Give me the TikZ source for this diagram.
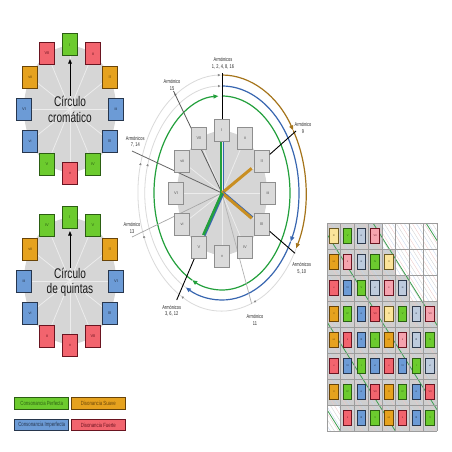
\documentclass[tikz,border=0pt]{standalone}
\usepackage{fontspec}
\setmainfont{Liberation Sans}
\usepackage{graphicx}
\usetikzlibrary{arrows.meta,calc}
\definecolor{gF}{HTML}{6CCB2E}\definecolor{gD}{HTML}{2B5E12}
\definecolor{rF}{HTML}{F2646E}\definecolor{rD}{HTML}{6A1420}
\definecolor{oF}{HTML}{E6A21E}\definecolor{oD}{HTML}{694408}
\definecolor{bF}{HTML}{6C9BD6}\definecolor{bD}{HTML}{27364D}
\definecolor{yF}{HTML}{FBE49A}\definecolor{yD}{HTML}{6B5A22}
\definecolor{pF}{HTML}{F5A3AE}\definecolor{pD}{HTML}{6A1420}
\definecolor{lF}{HTML}{BDCBDD}\definecolor{lD}{HTML}{2E3A4C}
\definecolor{boxF}{HTML}{DADADA}\definecolor{boxD}{HTML}{8E8E8E}
\definecolor{ringF}{HTML}{D6D6D6}\definecolor{spokeC}{HTML}{ECECEC}
\definecolor{gL}{HTML}{23A03C}\definecolor{bL}{HTML}{3866B0}
\definecolor{oL}{HTML}{C98F22}\definecolor{brL}{HTML}{A5741A}
\definecolor{faintC}{HTML}{DADADA}\definecolor{tipC}{HTML}{8A8A8A}
\definecolor{hA}{HTML}{EEC8C8}\definecolor{hB}{HTML}{C6D6EE}\definecolor{hC}{HTML}{D0D0D0}
\definecolor{gridC}{HTML}{9C9C9C}\definecolor{cellC}{HTML}{CFCFCF}\definecolor{grnL}{HTML}{3E9E50}
\newcommand\sq[1]{\scalebox{0.72}[1]{#1}}
\def\gridrows{%
1/{1/yF/yD/III,2/gF/gD/V,3/lF/lD/vi,4/pF/pD/VII},%
2/{1/oF/oD/vii,2/pF/pD/ii,3/lF/lD/iii,4/gF/gD/IV,5/yF/yD/II},%
3/{1/rF/rD/v,2/bF/bD/VI,3/gF/gD/V,4/lF/lD/vi,5/pF/pD/ii,6/lF/lD/iii},%
4/{1/oF/oD/II,2/gF/gD/IV,3/bF/bD/vi,4/rF/rD/VII,5/yF/yD/II,6/gF/gD/V,7/lF/lD/iii,8/pF/pD/VII},%
5/{1/oF/oD/vii,2/rF/rD/ii,3/bF/bD/III,4/gF/gD/V,5/oF/oD/vii,6/pF/pD/ii,7/lF/lD/III,8/gF/gD/IV},%
6/{1/rF/rD/v,2/bF/bD/VI,3/gF/gD/I,4/bF/bD/vi,5/rF/rD/v,6/bF/bD/VI,7/gF/gD/I,8/lF/lD/vi},%
7/{1/oF/oD/II,2/gF/gD/IV,3/bF/bD/vi,4/rF/rD/VII,5/oF/oD/II,6/gF/gD/IV,7/bF/bD/vi,8/rF/rD/VII},%
8/{2/rF/rD/ii,3/bF/bD/III,4/gF/gD/V,5/oF/oD/vii,6/rF/rD/ii,7/bF/bD/III,8/gF/gD/V}}
\begin{document}
\begin{tikzpicture}[x=1pt,y=-1pt,
  hb/.style 2 args={draw=#2,fill=#1,line width=1pt,minimum width=15pt,minimum height=22pt,inner sep=0pt,font=\fontsize{4}{4}\selectfont,text=#2},
  cbx/.style={draw=boxD,fill=boxF,line width=0.9pt,minimum width=15pt,minimum height=22pt,inner sep=0pt,font=\fontsize{4}{4}\selectfont,text=black!65},
  gb/.style 2 args={draw=#2,fill=#1,line width=0.8pt,minimum width=8.5pt,minimum height=14.5pt,inner sep=0pt,font=\fontsize{2.5}{2.5}\selectfont,text=#2},
  lgbox/.style 2 args={draw=#2,fill=#1,line width=1pt,minimum width=54.5pt,minimum height=11.5pt,inner sep=0pt,font=\fontsize{6}{6}\selectfont,text=#2},
  spoke/.style={draw=spokeC,line width=0.8pt},
  hlab/.style={font=\fontsize{5.5}{6.6}\selectfont,align=center,inner sep=0pt,text=black!85},
  title/.style={font=\fontsize{14}{15.5}\selectfont,align=center,inner sep=0pt,text=black!90},
  atip/.style={-{Triangle[length=5pt,width=4pt]}},
  satip/.style={-{Triangle[length=2.6pt,width=2.2pt]}},
  faint/.style={draw=faintC,line width=0.8pt},
  blk/.style={draw=black,line width=0.9pt},
]
\useasboundingbox (0,0) rectangle (452,452);
\fill[white] (0,0) rectangle (452,452);

% ---------- Circulo cromatico ----------
\coordinate (CA) at (70,109);
\fill[ringF] (CA) ellipse[x radius=46,y radius=63];
\foreach \k in {0,...,11} \coordinate (pa\k) at ($(CA)+({46*sin(30*\k)},{-64*cos(30*\k)})$);
\foreach \k in {0,...,11} \draw[spoke] (CA) -- (pa\k);
\foreach \k/\l/\fc/\dc in {0/I/gF/gD,1/ii/rF/rD,2/II/oF/oD,3/iii/bF/bD,4/III/bF/bD,5/IV/gF/gD,6/v/rF/rD,7/V/gF/gD,8/vi/bF/bD,9/VI/bF/bD,10/vii/oF/oD,11/VII/rF/rD}
  \node[hb={\fc}{\dc}] (ca\k) at (pa\k) {\l};
\coordinate (aa) at (70,96);
\draw[black,line width=0.8pt,-{Triangle[length=4.5pt,width=3.5pt]},shorten >=2.5pt] (aa) -- (ca0);
\node[title] (ta) at (70,109.5) {\sq{Círculo}\\\sq{cromático}};

% ---------- Circulo de quintas ----------
\coordinate (CB) at (70,281);
\fill[ringF] (CB) ellipse[x radius=46,y radius=63];
\foreach \k in {0,...,11} \coordinate (pb\k) at ($(CB)+({46*sin(30*\k)},{-64*cos(30*\k)})$);
\foreach \k in {0,...,11} \draw[spoke] (CB) -- (pb\k);
\foreach \k/\l/\fc/\dc in {0/I/gF/gD,1/V/gF/gD,2/II/oF/oD,3/VI/bF/bD,4/III/bF/bD,5/VII/rF/rD,6/v/rF/rD,7/ii/rF/rD,8/vi/bF/bD,9/iii/bF/bD,10/vii/oF/oD,11/IV/gF/gD}
  \node[hb={\fc}{\dc}] (cq\k) at (pb\k) {\l};
\coordinate (ab) at (70,268);
\draw[black,line width=0.8pt,-{Triangle[length=4.5pt,width=3.5pt]},shorten >=2.5pt] (ab) -- (cq0);
\node[title] (tb) at (70,282.5) {\sq{Círculo}\\\sq{de quintas}};

% ---------- Central diagram ----------
\coordinate (C) at (222,193);
% faint gray arcs with small tips
\foreach \a/\b in {118/196,196/269}
  \draw[faint,satip,-{Triangle[length=2.6pt,width=2.2pt,color=tipC]}] ($(C)+(\a:77 and 107)$) arc[start angle=\a,end angle=\b,x radius=77,y radius=107];
\foreach \a/\b in {28/68,68/119,119/159,159/195,195/237.5,237.5/269}
  \draw[faint,-{Triangle[length=2.6pt,width=2.2pt,color=tipC]}] ($(C)+(\a:84 and 118)$) arc[start angle=\a,end angle=\b,x radius=84,y radius=118];
% green
\draw[draw=gL,line width=1.2pt,-{Triangle[length=5pt,width=4pt,color=gL]}] ($(C)+(-90:68 and 97)$) arc[start angle=-90,end angle=116,x radius=68,y radius=97];
\draw[draw=gL,line width=1.2pt,-{Triangle[length=5pt,width=4pt,color=gL]}] ($(C)+(116:68 and 97)$) arc[start angle=116,end angle=267,x radius=68,y radius=97];
% blue
\draw[draw=bL,line width=1.2pt,-{Triangle[length=5pt,width=4pt,color=bL]}] ($(C)+(-90:77 and 107)$) arc[start angle=-90,end angle=27,x radius=77,y radius=107];
\draw[draw=bL,line width=1.2pt,-{Triangle[length=5pt,width=4pt,color=bL]}] ($(C)+(27:77 and 107)$) arc[start angle=27,end angle=118,x radius=77,y radius=107];
% brown
\draw[draw=brL,line width=1.2pt,-{Triangle[length=5pt,width=4pt,color=brL]}] ($(C)+(-90:84 and 118)$) arc[start angle=-90,end angle=-32,x radius=84,y radius=118];
\draw[draw=brL,line width=1.2pt,-{Triangle[length=5pt,width=4pt,color=brL]}] ($(C)+(-32:84 and 118)$) arc[start angle=-32,end angle=28,x radius=84,y radius=118];

% gray ring
\fill[ringF] (C) ellipse[x radius=45,y radius=62];
\foreach \k in {0,...,11} \coordinate (pc\k) at ($(C)+({46*sin(30*\k)},{-63*cos(30*\k)})$);
\foreach \k in {0,...,11} \draw[spoke] (C) -- (pc\k);

% harmonic end points
\coordinate (h1) at (222,73);
\coordinate (h15) at (173.5,91);
\coordinate (h7) at (132,151);
\coordinate (h13) at (132,237);
\coordinate (h3) at (176.7,300);
\coordinate (h11) at (251.7,304);
\coordinate (h5) at (295,253.3);
\coordinate (h9) at (296,131);
\draw[draw=black!65,line width=0.8pt] (C) -- (h15);
\draw[draw=black!60,line width=0.8pt] (C) -- (h7);
\draw[draw=black!35,line width=0.7pt] (C) -- (h13);
\draw[draw=black!30,line width=0.7pt] (C) -- (h11);

% thick colored lines
\coordinate (tI1) at (223.4,193);\coordinate (tI2) at (223.4,141);
\coordinate (tI3) at (221,193);\coordinate (tI4) at (221,141);
\draw[draw=bL,line width=1.5pt] (tI1) -- (tI2);
\draw[draw=gL,line width=2.6pt] (tI3) -- (tI4);
\coordinate (tII) at (251.7,168.3);
\draw[draw=oL,line width=3pt] (C) -- (tII);
\coordinate (tB1) at (223,191.8);\coordinate (tB2) at (252.7,217.1);
\coordinate (tIII) at (251.7,218.3);
\draw[draw=bL,line width=1.5pt] (tB1) -- (tB2);
\draw[draw=oL,line width=3pt] (C) -- (tIII);
\coordinate (tV1) at (223.5,193.7);\coordinate (tV2) at (204.8,235.7);
\coordinate (tV) at (203.3,235);
\draw[draw=bL,line width=1.5pt] (tV1) -- (tV2);
\draw[draw=gL,line width=2.6pt] (C) -- (tV);

% boxes
\foreach \k/\l in {0/I,1/ii,2/II,3/iii,4/III,5/IV,6/v,7/V,8/vi,9/VI,10/vii,11/VII}
  \node[cbx] (cb\k) at (pc\k) {\l};

% black harmonic lines
\draw[blk] (cb0) -- (h1);
\draw[blk] (cb2) -- (h9);
\draw[blk] (cb4) -- (h5);
\draw[blk] (cb7) -- (h3);

% labels
\node[hlab] (l1) at (223,63.5) {\sq{Armónicos}\\\sq{1, 2, 4, 8, 16}};
\node[hlab] (l15) at (172,85) {\sq{Armónico}\\\sq{15}};
\node[hlab] (l7) at (135.3,141.8) {\sq{Armónicos}\\\sq{7, 14}};
\node[hlab] (l13) at (132,227.7) {\sq{Armónico}\\\sq{13}};
\node[hlab] (l3) at (171.7,310.7) {\sq{Armónicos}\\\sq{3, 6, 12}};
\node[hlab] (l11) at (255,320) {\sq{Armónico}\\\sq{11}};
\node[hlab] (l5) at (301.7,268.3) {\sq{Armónicos}\\\sq{5, 10}};
\node[hlab] (l9) at (303,128) {\sq{Armónico}\\\sq{9}};

% ---------- Grid ----------
\foreach \r/\row in \gridrows {
  \foreach \cc/\fc/\dc/\lab in \row {
    \fill[cellC] ({327+13.75*(\cc-1)},{223+26*(\r-1)}) rectangle ++(13.75,26);
  }
}
\begin{scope}
\clip (327,223) rectangle (437,431);
\foreach \i in {0,...,21} {
  \draw[hA,line width=0.35pt] ({196+12*\i},223) -- ++(131,209);
  \draw[hB,line width=0.35pt] ({200+12*\i},223) -- ++(131,209);
  \draw[hC,line width=0.35pt] ({204+12*\i},223) -- ++(131,209);
}
\foreach \x in {210,265,320,373,426} \draw[grnL,line width=0.8pt] (\x,223) -- ++(131,209);
\end{scope}
\foreach \i in {0,...,8} \draw[gridC,line width=0.6pt] ({327+13.75*\i},223) -- ({327+13.75*\i},431);
\foreach \j in {0,...,8} \draw[gridC,line width=0.6pt] (327,{223+26*\j}) -- (437,{223+26*\j});
\foreach \r/\row in \gridrows {
  \foreach \cc/\fc/\dc/\lab in \row {
    \node[gb={\fc}{\dc}] (g\r-\cc) at ({327+13.75*(\cc-0.5)},{223+26*(\r-0.5)}) {\lab};
  }
}

% ---------- Legend ----------
\node[lgbox={gF}{gD}] (lgA) at (41.7,403.3) {\sq{Consonancia Perfecta}};
\node[lgbox={oF}{oD}] (lgB) at (98.3,403.3) {\sq{Disonancia Suave}};
\node[lgbox={bF}{bD}] (lgC) at (41.7,425) {\sq{Consonancia Imperfecta}};
\node[lgbox={rF}{rD}] (lgD) at (98.3,425) {\sq{Disonancia Fuerte}};
\end{tikzpicture}
\end{document}
